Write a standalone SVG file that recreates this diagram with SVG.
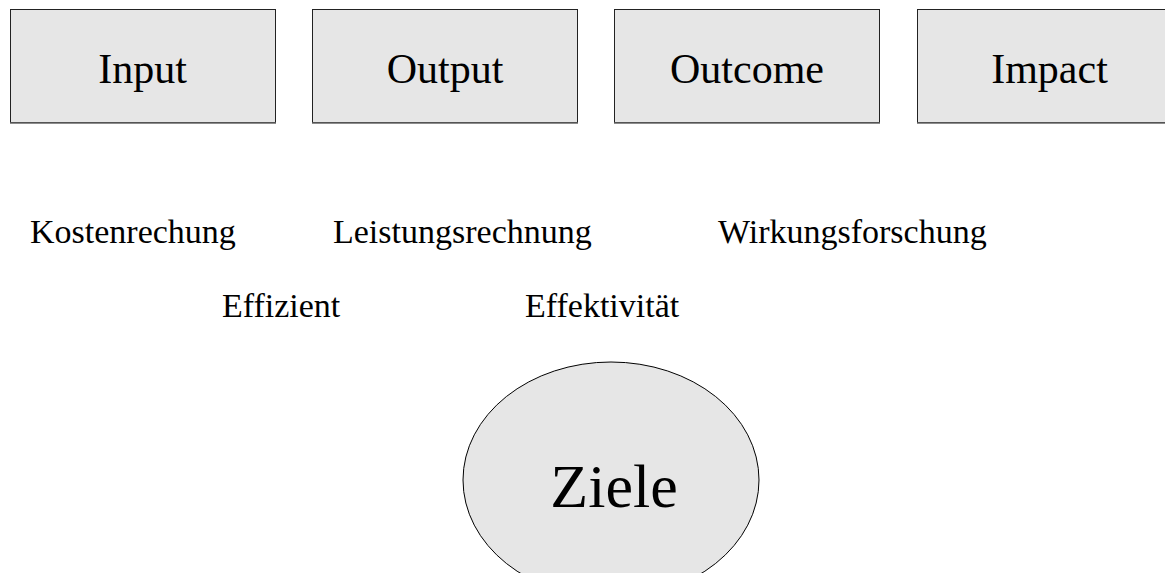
<svg xmlns="http://www.w3.org/2000/svg" width="1165" height="573" viewBox="0 0 1165 573">
<style>
.box{fill:#e6e6e6;stroke:#222;stroke-width:1}
.sh{stroke:#666;stroke-width:1.5}
.bt{font-family:"Liberation Serif","Times New Roman",serif;font-size:42px;fill:#000;text-anchor:middle}
.lb{font-family:"Liberation Serif","Times New Roman",serif;font-size:34px;fill:#000}
.el{fill:#e6e6e6;stroke:#000;stroke-width:1}
</style>
<rect width="1165" height="573" fill="#fff"/>
<g id="input"><rect class="box" x="10.5" y="9.5" width="265" height="113"/><line class="sh" x1="10" y1="123" x2="276" y2="123"/><text class="bt" x="142.5" y="83">Input</text></g>
<g id="output"><rect class="box" x="312.5" y="9.5" width="265" height="113"/><line class="sh" x1="312" y1="123" x2="578" y2="123"/><text class="bt" x="445" y="83">Output</text></g>
<g id="outcome"><rect class="box" x="614.5" y="9.5" width="265" height="113"/><line class="sh" x1="614" y1="123" x2="880" y2="123"/><text class="bt" x="747" y="83">Outcome</text></g>
<g id="impact"><rect class="box" x="917.5" y="9.5" width="265" height="113"/><line class="sh" x1="917" y1="123" x2="1183" y2="123"/><text class="bt" x="1049.5" y="83">Impact</text></g>
<g id="kostenrechung"><text class="lb" x="30" y="243">Kostenrechung</text></g>
<g id="leistungsrechnung"><text class="lb" x="333" y="243">Leistungsrechnung</text></g>
<g id="wirkungsforschung"><text class="lb" x="718" y="243">Wirkungsforschung</text></g>
<g id="effizient"><text class="lb" x="222" y="317">Effizient</text></g>
<g id="effektivitaet"><text class="lb" x="525" y="317">Effektivität</text></g>
<g id="ziele"><ellipse class="el" cx="611" cy="480" rx="148" ry="118"/><text class="bt" x="614" y="507" style="font-size:62px">Ziele</text></g>
<g id="connectors"></g>
</svg>
